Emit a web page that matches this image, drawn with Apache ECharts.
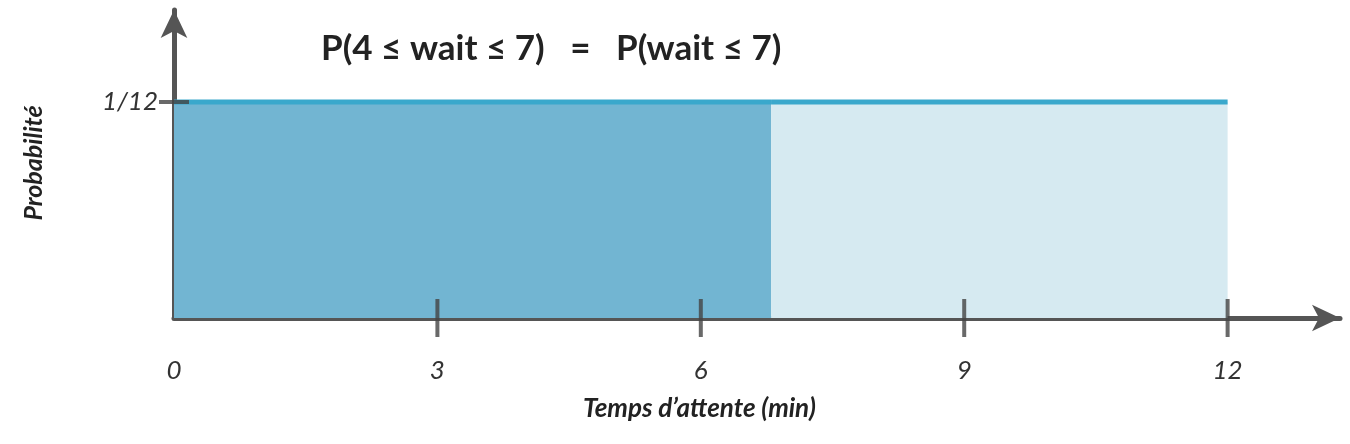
<!DOCTYPE html>
<html><head><meta charset="utf-8">
<script src="https://cdn.jsdelivr.net/npm/echarts@6/dist/echarts.min.js"></script>
<style>html,body{margin:0;padding:0;background:#fff}#c{width:1350px;height:444px}</style>
</head><body><div id="c"></div>
<script>
const xTicks = [0, 3, 6, 9, 12];
const xTickMarks = [3, 6, 9, 12];
const density = 1; // in units of 1/12
const cutoff = 6.8;
const maxWait = 12;
const titleText = 'P(4 ≤ wait ≤ 7)   =   P(wait ≤ 7)';
const xName = 'Temps d\u2019attente (min)';
const yName = 'Probabilité';

const chart = echarts.init(document.getElementById('c'));
chart.setOption({
  backgroundColor: '#fff',
  animation: false,
  title: { text: titleText, left: 316, top: 26,
    textStyle: { fontFamily: 'Lato', fontWeight: 'bold', fontSize: 35, color: '#222' } },
  grid: { left: 174, right: 10, top: 10, bottom: 126 },
  xAxis: {
    type: 'value', min: 0, max: 13.28, interval: 3,
    axisLine: { lineStyle: { color: '#555', width: 5 }, symbol: ['none', 'arrow'], symbolSize: [20, 28] },
    axisTick: { show: false }, splitLine: { show: false },
    axisLabel: { margin: 40, fontFamily: 'Lato', fontStyle: 'italic', fontSize: 26, color: '#333',
      showMaxLabel: false, formatter: v => xTicks.includes(v) ? String(v) : '' },
    name: xName, nameLocation: 'middle', nameGap: 78,
    nameTextStyle: { fontFamily: 'Lato', fontStyle: 'italic', fontWeight: 'bold', fontSize: 26, color: '#222', padding: [0, 0, 0, -115] }
  },
  yAxis: {
    type: 'value', min: 0, max: 1.426, interval: 1,
    axisLine: { show: true, lineStyle: { color: '#555', width: 5 }, symbol: ['none', 'arrow'], symbolSize: [20, 28] },
    axisTick: { show: false }, splitLine: { show: false },
    axisLabel: { margin: 16, fontFamily: 'Lato', fontStyle: 'italic', fontSize: 26, color: '#333',
      formatter: v => v === 1 ? '1/12' : '' },
    name: yName, nameLocation: 'middle', nameGap: 128, nameRotate: 90,
    nameTextStyle: { fontFamily: 'Lato', fontStyle: 'italic', fontWeight: 'bold', fontSize: 25, color: '#222', padding: [0, 0, 0, 2] }
  },
  series: [
    { type: 'line', data: [[0, density], [cutoff, density]], symbol: 'none', z: 2,
      lineStyle: { color: '#3aa8cc', width: 5 }, areaStyle: { color: '#72b5d2', opacity: 1 } },
    { type: 'line', data: [[cutoff, density], [maxWait, density]], symbol: 'none', z: 2,
      lineStyle: { color: '#3aa8cc', width: 5 }, areaStyle: { color: '#d6eaf1', opacity: 1 } },
    { type: 'scatter', data: xTickMarks.map(v => [v, 0]), symbol: 'rect', symbolSize: [4, 38],
      itemStyle: { color: '#444' }, z: 5, silent: true },
    { type: 'scatter', data: [[0, density]], symbol: 'rect', symbolSize: [30, 4],
      itemStyle: { color: '#444' }, z: 5, silent: true }
  ]
});
</script></body></html>
